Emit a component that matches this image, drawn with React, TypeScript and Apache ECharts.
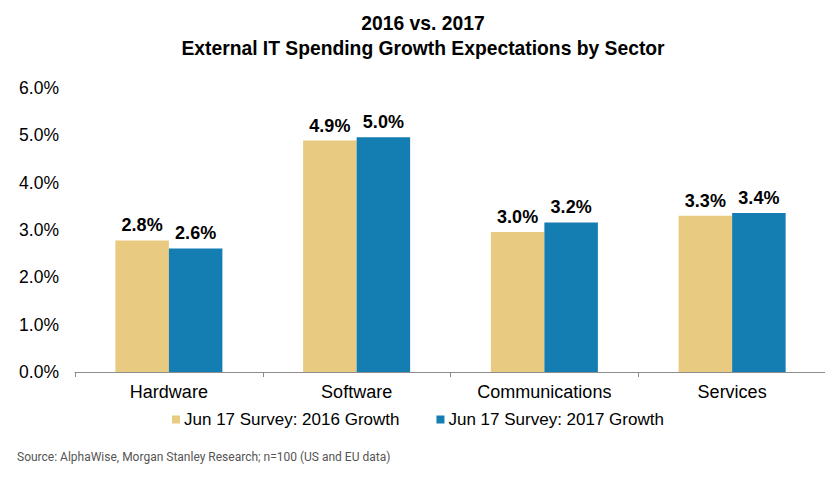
import React, { useEffect, useRef } from "react";
import * as echarts from "echarts";

const categories = ["Hardware", "Software", "Communications", "Services"];
const growth2016 = [2.78, 4.89, 2.96, 3.3];
const growth2017 = [2.61, 4.96, 3.16, 3.36];
const seriesNames = ["Jun 17 Survey: 2016 Growth", "Jun 17 Survey: 2017 Growth"];
const titleLines = ["2016 vs. 2017", "External IT Spending Growth Expectations by Sector"];
const sourceNote = "Source: AlphaWise, Morgan Stanley Research; n=100 (US and EU data)";

const FONT = "'Liberation Sans', Arial, sans-serif";

export default function App() {
  const ref = useRef<HTMLDivElement>(null);
  useEffect(() => {
    if (!ref.current) return;
    const chart = echarts.init(ref.current, null, { renderer: "svg" });
    const label = {
      show: true,
      position: "top",
      distance: 6,
      fontFamily: FONT,
      fontWeight: "bold",
      fontSize: 18,
      color: "#000",
      formatter: (p: any) => p.value.toFixed(1) + "%",
    };
    chart.setOption({
      animation: false,
      backgroundColor: "#fff",
      title: {
        text: titleLines.join("\n"),
        left: 423,
        top: 11,
        textAlign: "center",
        padding: 0,
        textStyle: {
          fontFamily: FONT,
          fontWeight: "bold",
          fontSize: 19.3,
          lineHeight: 25,
          color: "#000",
        },
      },
      grid: { left: 75, right: 7, top: 88, bottom: 109, containLabel: false },
      legend: {
        left: 172,
        top: 411,
        icon: "rect",
        itemWidth: 8,
        itemHeight: 8,
        itemGap: 37,
        padding: 0,
        textStyle: { fontFamily: FONT, fontSize: 17, color: "#000", padding: [0, 0, 0, -1] },
        data: seriesNames,
      },
      xAxis: {
        type: "category",
        data: categories,
        axisLine: { lineStyle: { color: "#8c8c8c", width: 1 } },
        axisTick: { show: true, length: 5, lineStyle: { color: "#8c8c8c" } },
        axisLabel: { fontFamily: FONT, fontSize: 18, color: "#000", margin: 11 },
        splitLine: { show: false },
      },
      yAxis: {
        type: "value",
        min: 0,
        max: 6,
        interval: 1,
        axisLine: { show: false },
        axisTick: { show: false },
        splitLine: { show: false },
        axisLabel: {
          fontFamily: FONT,
          fontSize: 17.5,
          color: "#000",
          margin: 16,
          formatter: (v: number) => v.toFixed(1) + "%",
        },
      },
      graphic: [
        {
          type: "text",
          left: 17,
          top: 451,
          style: {
            text: sourceNote,
            fontFamily: "Roboto, sans-serif",
            fontSize: 12,
            fill: "#555",
          },
        },
      ],
      series: [
        {
          name: seriesNames[0],
          type: "bar",
          data: growth2016,
          barGap: "0%",
          barCategoryGap: "43%",
          itemStyle: { color: "#E8CA80" },
          label,
        },
        {
          name: seriesNames[1],
          type: "bar",
          data: growth2017,
          barGap: "0%",
          barCategoryGap: "43%",
          itemStyle: { color: "#147DB2" },
          label,
        },
      ],
    });
    return () => chart.dispose();
  }, []);
  return <div ref={ref} style={{ width: 833, height: 481, margin: -8 }} />;
}
